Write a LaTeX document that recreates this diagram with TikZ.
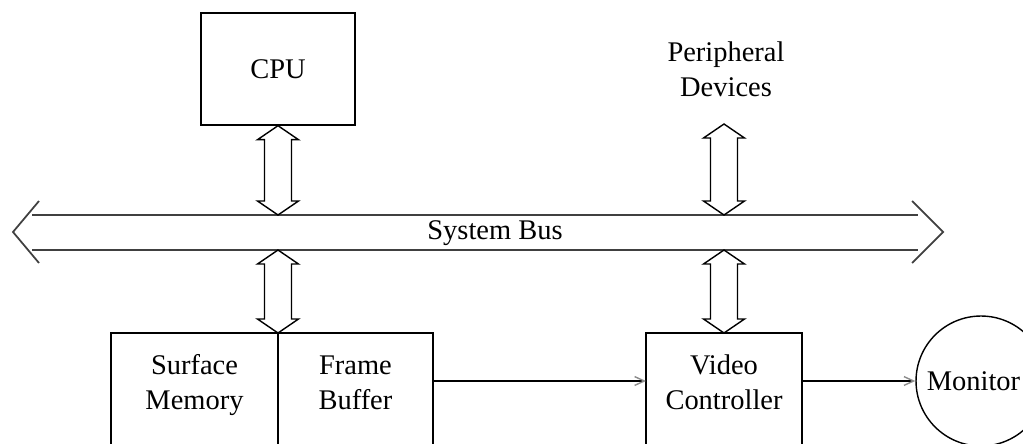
\documentclass[tikz,border=0pt]{standalone}
\usepackage{fontspec}
\setmainfont{Liberation Serif}
\usetikzlibrary{arrows.meta,calc,positioning}

% two-headed bus port between a top tip and a bottom tip
\newcommand{\busport}[2]{%
  \draw[port] (#1) -- ++(20.5,14) -- ++(-7,0)
    -- ($(#2)+(13.5,-14)$) -- ++(7,0) -- (#2)
    -- ++(-20.5,-14) -- ++(7,0)
    -- ($(#1)+(-13.5,14)$) -- ++(-7,0) -- cycle;}

\begin{document}
\begin{tikzpicture}[
  x=0.02cm, y=-0.02cm,
  every node/.style={font=\fontsize{16.2}{20}\selectfont},
  unit/.style={
    draw, line width=0.8pt,
    align=center},
  lowunit/.style={
    unit, anchor=north, outer sep=0pt,
    inner ysep=0pt,
    text height=43.8pt, text depth=40pt},
  port/.style={
    line width=0.8pt, line join=miter},
  busline/.style={
    black!75, line width=1pt},
  flow/.style={
    line width=0.8pt,
    -{Straight Barb[length=5.5pt,width=5pt,color=black!45]}}
]
\clip (0,0) rectangle (1023,443);

% top row
\node[unit, minimum width=3.08cm, minimum height=2.24cm]
  (cpu) at (278,69) {CPU};
\node[align=center] (periph) at (726,69)
  {Peripheral\\Devices};

% system bus
\coordinate (bustopL) at (32,215);
\coordinate (bustopR) at (918,215);
\coordinate (busbotL) at (32,250);
\coordinate (busbotR) at (918,250);
\coordinate (tipL) at (13,232);
\coordinate (tipR) at (943,232);
\draw[busline] (bustopL) -- (bustopR);
\draw[busline] (busbotL) -- (busbotR);
\draw[busline] (39,201) -- (tipL) -- (39,263);
\draw[busline] (912,201) -- (tipR) -- (912,263);
\node (bus) at (495,233) {System Bus};

% bottom row
\node[lowunit, minimum width=3.34cm]
  (surface) at (194.5,333) {Surface\\Memory};
\node[lowunit, minimum width=3.1cm, anchor=north west]
  (frame) at (surface.north east) {Frame\\Buffer};
\node[lowunit, minimum width=3.12cm]
  (video) at (724,333) {Video\\Controller};
\node[draw, circle, line width=0.8pt, minimum size=2.6cm, inner sep=0pt]
  (monitor) at (981,381) {Monitor\kern0.3cm};

% ports onto the bus
\coordinate (cpuT) at (cpu.south);
\coordinate (cpuB) at (cpu.south |- bustopL);
\coordinate (perT) at (724,124);
\coordinate (perB) at (perT |- bustopL);
\coordinate (memT) at (surface.north east |- busbotL);
\coordinate (memB) at (surface.north east);
\coordinate (vidT) at (video.north |- busbotL);
\coordinate (vidB) at (video.north);
\foreach \t/\b in {cpuT/cpuB,perT/perB,memT/memB,vidT/vidB}{
  \busport{\t}{\b}
}

% pixel flow
\draw[flow] (frame.east |- monitor) -- (video.west |- monitor);
\draw[flow] (video.east |- monitor) -- (monitor);
\end{tikzpicture}
\end{document}
